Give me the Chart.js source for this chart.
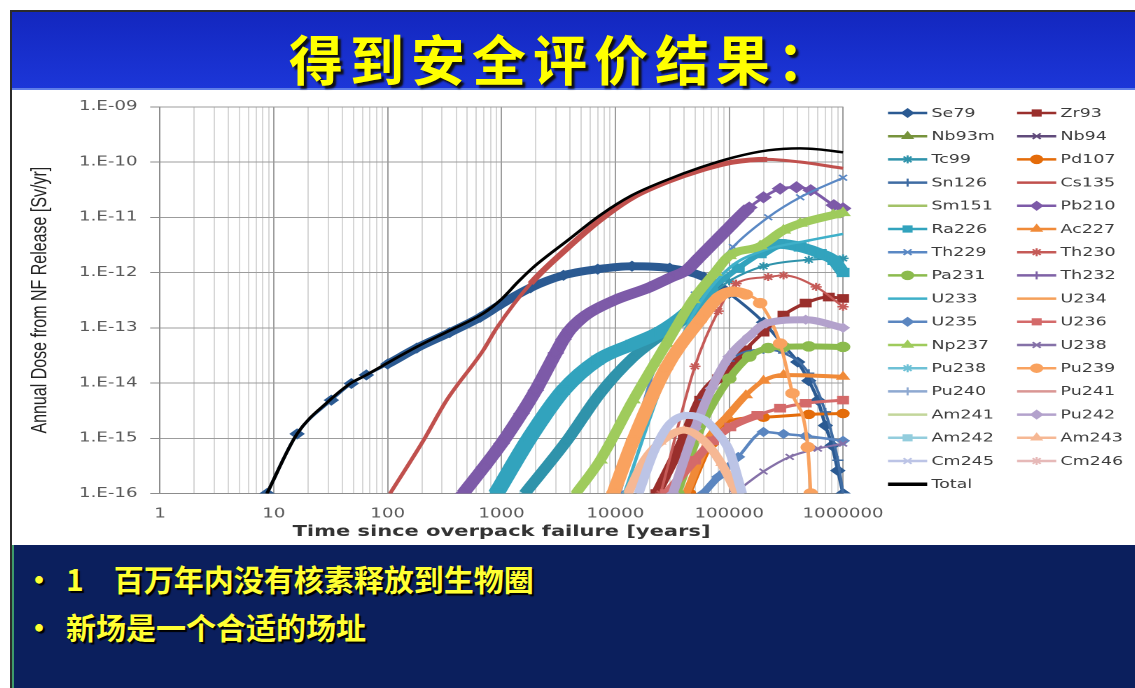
<!DOCTYPE html>
<html><head><meta charset="utf-8">
<script src="https://cdn.jsdelivr.net/npm/chart.js@4.4.1/dist/chart.umd.min.js"></script>
<style>
html,body{margin:0;padding:0;}
body{width:1135px;height:688px;position:relative;overflow:hidden;background:#fff;font-family:"Noto Sans CJK SC",sans-serif;}
#outer{position:absolute;left:10px;top:10px;width:1125px;height:678px;background:#fff;border-left:2px solid #2b2b2b;border-top:2px solid #2b2b2b;box-sizing:border-box;}
#head{position:absolute;left:12px;top:12px;width:1123px;height:76px;background:linear-gradient(#1327bf,#1c36d8);border-bottom:2px solid #5f7ee8;}
#title{position:absolute;left:289px;top:28px;color:#ffff00;font-weight:700;font-size:54px;line-height:60px;letter-spacing:7px;text-shadow:3px 3px 2px #101010;white-space:nowrap;}
#foot{position:absolute;left:12px;top:545px;width:1123px;height:143px;background:#0b1f5d;border-left:2px solid #3f9a6a;box-sizing:border-box;}
.b{position:absolute;color:#ffff33;font-weight:700;font-size:30px;line-height:36px;white-space:nowrap;text-shadow:2px 2px 1px #000;}
#wrap{position:absolute;left:12px;top:90px;width:802px;height:455px;transform:scaleX(1.4);transform-origin:0 0;}
</style></head>
<body>
<div id="outer"></div>
<div id="head"></div>
<div id="title">得到安全评价结果：</div>
<div id="wrap"><canvas id="c"></canvas></div>
<div id="foot"></div>
<div class="b" style="left:24px;top:560px;">•</div>
<div class="b" style="left:66px;top:560px;"><span>1</span><span style="margin-left:30px">百万年内没有核素释放到生物圈</span></div>
<div class="b" style="left:24px;top:608px;">•</div>
<div class="b" style="left:66px;top:608px;">新场是一个合适的场址</div>
<script>
// ---------- data: [time (years), annual dose (Sv/yr)] ----------
const SE79  = [[8.7,1e-16],[16,1.2e-15],[32,4.9e-15],[48,9.8e-15],[65,1.4e-14],[100,2.2e-14],[180,4.3e-14],[350,8.2e-14],[650,1.55e-13],[1000,2.7e-13],[1800,5.3e-13],[3500,8.9e-13],[7000,1.15e-12],[14000,1.3e-12],[30000,1.2e-12],[60000,8.3e-13],[1e5,4.2e-13],[2e5,1.26e-13],[3e5,4.8e-14],[4e5,2.4e-14],[5e5,1.1e-14],[6e5,4.9e-15],[7e5,1.7e-15],[8e5,7.4e-16],[9e5,2.6e-16],[1e6,1e-16]];
const ZR93  = [[23000,1e-16],[40000,1e-15],[55600,4.9e-15],[80000,1.2e-14],[1.08e5,1.9e-14],[1.4e5,4e-14],[2e5,8.3e-14],[3e5,1.7e-13],[4.7e5,2.8e-13],[7.5e5,3.6e-13],[1e6,3.4e-13]];
const NB93M = [];
const NB94  = [];
const TC99  = [[1600,1e-16],[3750,9e-16],[7350,6.5e-15],[14300,2.9e-14],[22000,5.9e-14],[40000,1.4e-13],[70000,4e-13],[1e5,7e-13],[2e5,1.3e-12],[5e5,1.7e-12],[1e6,1.8e-12]];
const PD107 = [[45000,1e-16],[70000,8e-16],[90000,1.9e-15],[2e5,2.4e-15],[5e5,2.7e-15],[1e6,2.8e-15]];
const SN126 = [[30000,1e-16],[60000,5e-15],[1e5,2.5e-14],[2e5,4e-14],[3e5,3.5e-14],[5e5,1.5e-14],[7e5,3e-15],[9e5,4e-16],[1e6,1e-16]];
const CS135 = [[105,1e-16],[206,9.1e-16],[330,4.9e-15],[690,3.9e-14],[910,1.0e-13],[1800,6.3e-13],[3750,2.7e-12],[7350,8.9e-12],[14300,2.3e-11],[28500,4.4e-11],[55600,7.1e-11],[1.08e5,1.0e-10],[2.16e5,1.12e-10],[4.2e5,1.0e-10],[1e6,7.7e-11]];
const SM151 = [];
const PB210 = [[460,1e-16],[700,3e-16],[1000,8e-16],[1500,2.8e-15],[2000,7.4e-15],[3000,3.5e-14],[3500,6.2e-14],[4000,9.2e-14],[5000,1.45e-13],[6000,1.9e-13],[10000,3.2e-13],[20000,5.4e-13],[30000,8e-13],[42000,1.1e-12],[55000,1.9e-12],[1e5,6.6e-12],[1.5e5,1.5e-11],[2e5,2.3e-11],[2.8e5,3.3e-11],[3.9e5,3.5e-11],[5.2e5,3.1e-11],[8.3e5,1.66e-11],[1e6,1.45e-11]];
const RA226 = [[900,1e-16],[1780,1.05e-15],[3500,7.4e-15],[7000,2.6e-14],[14000,5e-14],[25000,8.5e-14],[42000,1.8e-13],[70000,5e-13],[1.2e5,1.2e-12],[1.87e5,2.2e-12],[2.8e5,3.3e-12],[4.2e5,2.9e-12],[6.3e5,2.2e-12],[8.3e5,1.66e-12],[1e6,1.0e-12]];
const AC227 = [[42000,1e-16],[70000,1.2e-15],[96000,2.5e-15],[1.4e5,6e-15],[2e5,1.1e-14],[3e5,1.4e-14],[1e6,1.3e-14]];
const TH229 = [[11000,1e-16],[20000,1e-14],[50000,4e-13],[1.08e5,2.9e-12],[2.2e5,1e-11],[4.2e5,2.3e-11],[1e6,5.2e-11]];
const TH230 = [[25000,1e-16],[50000,2e-14],[80000,2e-13],[1.15e5,6.3e-13],[2.2e5,8.3e-13],[3e5,8.9e-13],[5.8e5,5.5e-13],[1e6,2.4e-13]];
const PA231 = [[35000,1e-16],[60000,2e-15],[1e5,1.2e-14],[1.5e5,3e-14],[2.2e5,4.3e-14],[3e5,4.5e-14],[5e5,4.6e-14],[1e6,4.5e-14]];
const TH232 = [];
const U233  = [[12000,1e-16],[25000,8e-15],[50000,2e-13],[1e5,1.2e-12],[2e5,2.5e-12],[5e5,3.8e-12],[1e6,5e-12]];
const U234  = [];
const U235  = [[59000,1e-16],[80000,2e-16],[1.2e5,4.6e-16],[2e5,1.3e-15],[3e5,1.2e-15],[4.7e5,1.1e-15],[1e6,9e-16]];
const U236  = [[28000,1e-16],[50000,4e-16],[72000,9e-16],[1.02e5,1.6e-15],[1.77e5,2.6e-15],[2.8e5,3.5e-15],[4.7e5,4.3e-15],[1e6,4.9e-15]];
const NP237 = [[4500,1e-16],[7350,4e-16],[14300,4.9e-15],[28000,5.1e-14],[48000,3.2e-13],[75000,1e-12],[1e5,2e-12],[1.87e5,3e-12],[3e5,5.8e-12],[4.2e5,7.7e-12],[8.2e5,1.1e-11],[1e6,1.2e-11]];
const U238  = [[1.1e5,1e-16],[2e5,2.5e-16],[3.4e5,4.6e-16],[6e5,6.5e-16],[1e6,8e-16]];
const PU238 = [];
const PU239 = [[9600,1e-16],[14300,9e-16],[28000,1.9e-14],[55600,1.4e-13],[80000,3.5e-13],[1.08e5,4.5e-13],[1.4e5,4e-13],[1.87e5,2.8e-13],[2.8e5,5.2e-14],[3.6e5,6.5e-15],[4.9e5,6.9e-16],[5.2e5,1e-16]];
const PU240 = [];
const PU241 = [];
const AM241 = [];
const PU242 = [[32000,1e-16],[50000,1.5e-15],[70000,8e-15],[1e5,3e-14],[1.5e5,7e-14],[2.1e5,1.2e-13],[4.7e5,1.4e-13],[1e6,1e-13]];
const AM242 = [];
const AM243 = [[12900,1e-16],[18000,4e-16],[25000,8.5e-16],[40000,1.4e-15],[60000,9e-16],[85000,3.5e-16],[117000,1e-16]];
const CM245 = [[16000,1e-16],[22000,6e-16],[30000,1.8e-15],[43000,2.6e-15],[60000,2.2e-15],[80000,1.2e-15],[1e5,6e-16],[1.3e5,1e-16]];
const CM246 = [];
const TOTAL = [[8.7,1e-16],[16,1.2e-15],[31,4.9e-15],[47,9.8e-15],[65,1.4e-14],[92,2.1e-14],[180,4.5e-14],[350,8.9e-14],[700,1.85e-13],[1000,3.3e-13],[1400,6.8e-13],[1900,1.24e-12],[3800,3.8e-12],[7400,1.1e-11],[14000,2.5e-11],[28000,4.7e-11],[56000,8.0e-11],[1.1e5,1.22e-10],[2.2e5,1.63e-10],[4.2e5,1.77e-10],[6e5,1.7e-10],[1e6,1.5e-10]];

const NAMES = ['Se79','Zr93','Nb93m','Nb94','Tc99','Pd107','Sn126','Cs135','Sm151','Pb210','Ra226','Ac227','Th229','Th230','Pa231','Th232','U233','U234','U235','U236','Np237','U238','Pu238','Pu239','Pu240','Pu241','Am241','Pu242','Am242','Am243','Cm245','Cm246','Total'];
const SERIES = [SE79,ZR93,NB93M,NB94,TC99,PD107,SN126,CS135,SM151,PB210,RA226,AC227,TH229,TH230,PA231,TH232,U233,U234,U235,U236,NP237,U238,PU238,PU239,PU240,PU241,AM241,PU242,AM242,AM243,CM245,CM246,TOTAL];

const X_MAJOR  = [1,10,100,1000,10000,100000,1000000];
const X_LABELS = ['1','10','100','1000','10000','100000','1000000'];
const Y_TICKS  = [1e-16,1e-15,1e-14,1e-13,1e-12,1e-11,1e-10,1e-9];
const Y_LABELS = ['1.E-16','1.E-15','1.E-14','1.E-13','1.E-12','1.E-11','1.E-10','1.E-09'];

// ---------- styles ----------
const INF = Infinity;
const STYLE = {
 Se79:{c:'#2b5a92',ps:'rectRot',r:4.5,w:[[90,2.5],[8.5e4,8],[INF,2.5]]},
 Zr93:{c:'#9a2f2c',ps:'rect',r:5,w:[[1.1e5,8],[INF,3]]},
 Nb93m:{c:'#77933c',ps:'triangle',r:4,w:[[INF,2]]},
 Nb94:{c:'#604a7b',ps:'crossRot',r:4,w:[[INF,2]]},
 Tc99:{c:'#2f93ab',ps:'star',r:4,w:[[5e4,9],[INF,2]]},
 Pd107:{c:'#e46c0a',ps:'circle',r:4,w:[[INF,3]]},
 Sn126:{c:'#3f6ca3',ps:'cross',r:4,w:[[INF,2]]},
 Cs135:{c:'#c0504d',ps:false,r:0,w:[[1000,3],[1.2e5,5],[INF,3]]},
 Sm151:{c:'#a3c267',ps:false,r:0,w:[[INF,2]]},
 Pb210:{c:'#7d5aa8',ps:'rectRot',r:5,w:[[1.1e5,10],[INF,2.5]]},
 Ra226:{c:'#32a3bd',ps:'rect',r:5.5,w:[[4.5e4,12],[1.6e5,5],[INF,10]]},
 Ac227:{c:'#f08a38',ps:'triangle',r:4.5,w:[[1e5,6],[INF,4]]},
 Th229:{c:'#5a88c4',ps:'crossRot',r:4,w:[[INF,2]]},
 Th230:{c:'#c55a57',ps:'star',r:4,w:[[INF,2]]},
 Pa231:{c:'#8cbb4e',ps:'circle',r:4.5,w:[[INF,6]]},
 Th232:{c:'#7f62a6',ps:'cross',r:4,w:[[INF,2]]},
 U233:{c:'#3fb0c9',ps:false,r:0,w:[[INF,2.5]]},
 U234:{c:'#f5a05a',ps:false,r:0,w:[[INF,2]]},
 U235:{c:'#5b86c0',ps:'rectRot',r:4,w:[[1.05e5,6],[INF,2.5]]},
 U236:{c:'#d46a6a',ps:'rect',r:5,w:[[1.05e5,7],[INF,3]]},
 Np237:{c:'#9fcb5c',ps:'triangle',r:5,w:[[INF,8]]},
 U238:{c:'#8571a8',ps:'crossRot',r:4,w:[[INF,2]]},
 Pu238:{c:'#6ec1d6',ps:'star',r:4,w:[[INF,2]]},
 Pu239:{c:'#f9a25f',ps:'circle',r:4.5,w:[[1.1e5,10],[INF,2.5]]},
 Pu240:{c:'#8ea9d1',ps:'cross',r:4,w:[[INF,2]]},
 Pu241:{c:'#da9694',ps:false,r:0,w:[[INF,2]]},
 Am241:{c:'#c3d69b',ps:false,r:0,w:[[INF,2]]},
 Pu242:{c:'#b3a2cc',ps:'rectRot',r:4,w:[[INF,7]]},
 Am242:{c:'#93cddd',ps:'rect',r:4,w:[[INF,2]]},
 Am243:{c:'#f6b894',ps:'triangle',r:3.5,w:[[INF,7]]},
 Cm245:{c:'#bcc4e6',ps:'crossRot',r:3.5,w:[[INF,7]]},
 Cm246:{c:'#e6b9b8',ps:'star',r:4,w:[[INF,2]]},
 Total:{c:'#000000',ps:false,r:0,w:[[INF,2.5]]}
};
function widthAt(w,t){ for (const [lim,wd] of w) if (t < lim) return wd; return w[w.length-1][1]; }
function isMajor(v){ const l=Math.log10(v); return Math.abs(l-Math.round(l))<1e-6; }

const X_GRID = [];
for (let e=0;e<6;e++) for (let k=1;k<10;k++) X_GRID.push(k*Math.pow(10,e));
X_GRID.push(1e6);

const datasets = NAMES.map((n,i)=>{
  const st = STYLE[n];
  const pts = SERIES[i].map(([x,y])=>({x,y}));
  return {
    label:n, data:pts, order:NAMES.length-i,
    borderColor:st.c, backgroundColor:st.c,
    borderWidth:st.w[0][1],
    segment:{borderWidth: ctx => widthAt(st.w, pts[ctx.p0DataIndex].x)},
    pointStyle: st.ps || 'circle',
    pointRadius: st.ps ? st.r : 0,
    pointBorderWidth: 1.5,
    pointBackgroundColor: st.c, pointBorderColor: st.c,
    cubicInterpolationMode:'monotone',
    borderCapStyle:'butt', borderJoinStyle:'round',
    clip:{left:0,top:0,right:6,bottom:0},
    fill:false
  };
});

// legend geometry (canvas units before horizontal stretch)
const LEG = {c1:625.7, c2:717.9, len:28, y0:23, dy:23.2};
function drawMarker(ctx, ps, r, x, y){
  if (window.Chart && Chart.helpers && Chart.helpers.drawPoint) {
    Chart.helpers.drawPoint(ctx,{pointStyle:ps,radius:r,rotation:0,borderWidth:1.5},x,y);
  } else { ctx.beginPath(); ctx.arc(x,y,r,0,Math.PI*2); ctx.fill(); }
}
const sideLegend = {
  id:'sideLegend',
  afterDraw(chart){
    const ctx = chart.ctx;
    ctx.save();
    NAMES.forEach((n,i)=>{
      const st = STYLE[n];
      const col = i%2, row = Math.floor(i/2);
      const y = LEG.y0 + row*LEG.dy;
      const x1 = col ? LEG.c2 : LEG.c1;
      ctx.strokeStyle = st.c; ctx.lineWidth = n==='Total' ? 3.5 : 2.5;
      ctx.beginPath(); ctx.moveTo(x1,y); ctx.lineTo(x1+LEG.len,y); ctx.stroke();
      if (st.ps){ ctx.fillStyle = st.c; ctx.lineWidth = 1.5; drawMarker(ctx, st.ps, 4, x1+LEG.len/2, y); }
      ctx.fillStyle = '#3c3c3c';
      ctx.font = '12.5px "DejaVu Sans"';
      ctx.textBaseline = 'middle'; ctx.textAlign = 'left';
      ctx.fillText(n, x1+LEG.len+3, y+0.5);
    });
    ctx.restore();
  }
};

new Chart(document.getElementById('c'), {
  type:'line',
  data:{datasets},
  plugins:[sideLegend],
  options:{
    responsive:true, maintainAspectRatio:false, animation:false, devicePixelRatio:2,
    layout:{padding:{left:0,top:16.5,right:208.4,bottom:0}},
    plugins:{legend:{display:false}, tooltip:{enabled:false}},
    events:[],
    scales:{
      x:{type:'logarithmic', min:1, max:1e6,
        afterBuildTicks: s => { s.ticks = X_GRID.map(v=>({value:v})); },
        afterFit: s => { s.height = 51.5; },
        grid:{color: c => (c.tick && isMajor(c.tick.value)) ? '#9c9c9c' : '#d6d6d6', lineWidth:1, drawTicks:false},
        border:{display:true, color:'#8c8c8c'},
        ticks:{autoSkip:false, maxRotation:0, minRotation:0, padding:13, color:'#595959',
          font:{family:'DejaVu Sans', size:13},
          callback:(v)=>{ const k = X_MAJOR.findIndex(m=>Math.abs(m-v)<1e-9*m); return k>=0 ? X_LABELS[k] : ''; }},
        title:{display:true, text:'Time since overpack failure [years]', color:'#333333',
          font:{family:'DejaVu Sans', size:15, weight:'bold'}, padding:{top:0,bottom:4}}
      },
      y:{type:'logarithmic', min:1e-16, max:1e-9,
        afterBuildTicks: s => { s.ticks = Y_TICKS.map(v=>({value:v})); },
        afterFit: s => { s.width = 105.7; },
        grid:{color:'#9c9c9c', lineWidth:1, tickLength:7, tickColor:'#8c8c8c'},
        border:{display:true, color:'#8c8c8c'},
        ticks:{padding:9, color:'#595959', font:{family:'DejaVu Sans', size:13},
          callback:(v,i)=>Y_LABELS[i]},
        title:{display:true, text:'Annual Dose from NF Release [Sv/yr]', color:'#222222',
          font:{family:'Liberation Sans', size:16}, padding:{top:10.4,bottom:0}}
      }
    }
  }
});
</script>
</body></html>
